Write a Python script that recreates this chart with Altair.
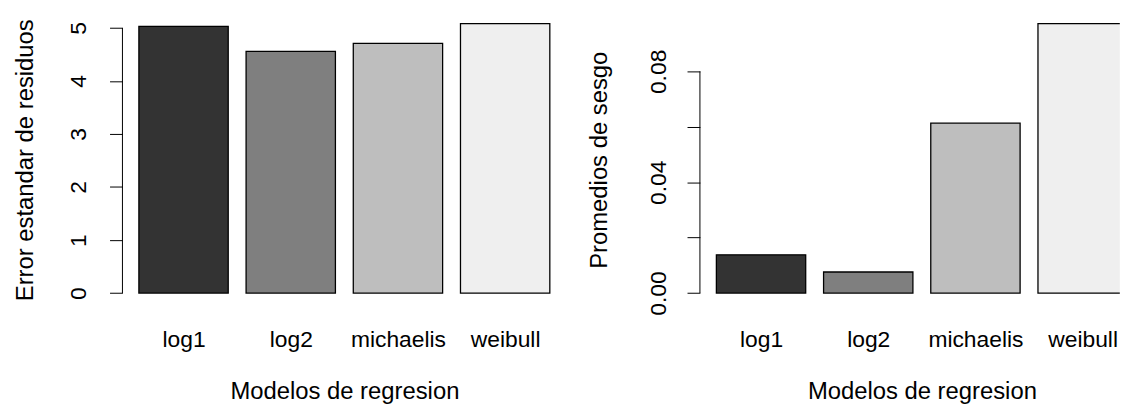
import json
import altair as alt
import pandas as pd

# ---- data ----
modelos = ["log1", "log2", "michaelis", "weibull"]
error_estandar = [5.03, 4.56, 4.71, 5.08]
promedios_sesgo = [0.0138, 0.0076, 0.0613, 0.0972]
colores = ["#333333", "#7f7f7f", "#bebebe", "#efefef"]

left_ticks = [0, 1, 2, 3, 4, 5]
right_ticks = [0.0, 0.02, 0.04, 0.06, 0.08]

FONT = "Liberation Sans"
FS = 23        # tick / category labels
FS_T = 24      # axis titles
UNIT = 90.0    # pixels per bar-width unit (R barplot: width 1, space 0.2)
H = 296
W_LEFT = 447.2
W_RIGHT = 423  # right panel is cut by the picture edge

# R barplot geometry: bars at [0.2 + 1.2 i, 1.2 + 1.2 i], xlim starts at 0.016
bar_lo = [0.2 + 1.2 * i for i in range(len(modelos))]
bar_hi = [b + 1.0 for b in bar_lo]
bar_mid = [b + 0.5 for b in bar_lo]
X0 = 0.016


def r_ylim(vals):
    # mimic R barplot y-limits (range incl. small negative offset, then 4% expansion)
    lo = min(0.0, min(-0.01 * v for v in vals))
    hi = max(vals)
    d = 0.04 * (hi - lo)
    return [lo - d, hi + d]


name_expr = json.dumps(modelos) + "[round((datum.value - 0.7) / 1.2)]"


def panel(values, ytitle, ticks, label_expr, label_pad, title_x, width):
    df = pd.DataFrame(
        {"modelo": modelos, "valor": values, "lo": bar_lo, "hi": bar_hi}
    )
    xscale = alt.Scale(domain=[X0, X0 + width / UNIT], nice=False, zero=False)
    yscale = alt.Scale(domain=r_ylim(values), nice=False, zero=False)

    bars = alt.Chart(df).mark_bar(stroke="#000000", strokeWidth=1.3, clip=True).encode(
        x=alt.X(
            "lo:Q",
            scale=xscale,
            axis=alt.Axis(
                values=bar_mid,
                labelExpr=name_expr,
                title="Modelos de regresion",
                ticks=False,
                domain=False,
                grid=False,
                labelAngle=0,
                labelAlign="center",
                labelFlush=False,
                labelOverlap=False,
                labelPadding=40,
                labelBaseline="alphabetic",
                labelFontSize=FS,
                titleFontSize=FS_T,
                titleFontWeight="normal",
                titleBaseline="alphabetic",
                titleAlign="center",
                titleX=W_LEFT / 2,
                titleY=93,
            ),
        ),
        x2="hi:Q",
        y=alt.Y(
            "valor:Q",
            scale=yscale,
            axis=alt.Axis(
                values=ticks,
                title=ytitle,
                labelExpr=label_expr,
                labelAngle=270,
                labelAlign="center",
                labelBaseline="middle",
                labelPadding=label_pad,
                labelOverlap=False,
                tickSize=13,
                tickColor="#000000",
                tickWidth=1,
                domain=False,
                grid=False,
                labelFontSize=FS,
                titleFontSize=FS_T,
                titleFontWeight="normal",
                titleAngle=270,
                titleAlign="center",
                titleBaseline="middle",
                titleX=title_x,
            ),
        ),
        y2=alt.datum(0),
        color=alt.Color(
            "modelo:N",
            scale=alt.Scale(domain=modelos, range=colores),
            legend=None,
        ),
    )

    axis_line = alt.Chart(pd.DataFrame({"a": [ticks[0]], "b": [ticks[-1]]})).mark_rule(
        color="#000000", strokeWidth=1
    ).encode(
        x=alt.value(0),
        y=alt.Y("a:Q", scale=yscale),
        y2="b:Q",
    )

    return alt.layer(bars, axis_line).properties(width=width, height=H)


left = panel(
    error_estandar,
    "Error estandar de residuos",
    left_ticks,
    "format(datum.value, 'd')",
    31,
    -98,
    W_LEFT,
)
right = panel(
    promedios_sesgo,
    "Promedios de sesgo",
    right_ticks,
    "round(datum.value * 100) % 4 == 0 ? format(datum.value, '.2f') : ''",
    28.5,
    -101,
    W_RIGHT,
)

chart = (
    alt.hconcat(left, right, spacing=133.8, bounds="flush")
    .properties(padding={"left": 5.3, "top": 3.4, "right": 0, "bottom": 0})
    .configure_view(stroke=None)
    .configure_axis(labelFont=FONT, titleFont=FONT, labelColor="#000000", titleColor="#000000")
)

chart.save("out.html", embed_options={"renderer": "svg", "actions": False})
